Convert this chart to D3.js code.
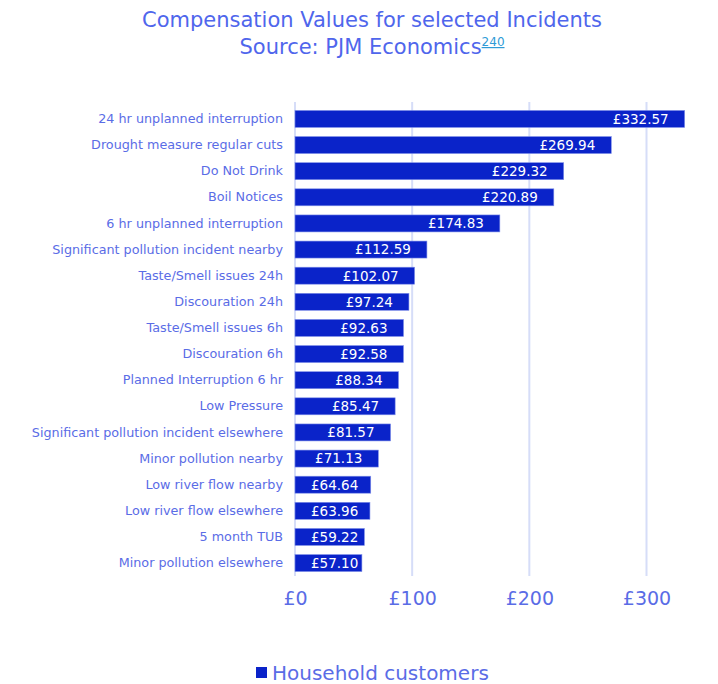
<!DOCTYPE html>
<html><head><meta charset="utf-8">
<script src="https://cdn.jsdelivr.net/npm/d3@7"></script>
<style>body{margin:0;background:#fff}svg{display:block}</style>
</head><body>
<script>
const categories = ["24 hr unplanned interruption","Drought measure regular cuts","Do Not Drink","Boil Notices","6 hr unplanned interruption","Significant pollution incident nearby","Taste/Smell issues 24h","Discouration 24h","Taste/Smell issues 6h ","Discouration 6h","Planned Interruption 6 hr","Low Pressure","Significant pollution incident elsewhere","Minor pollution nearby","Low river flow nearby","Low river flow elsewhere","5 month TUB","Minor pollution elsewhere"];
const values = [332.57,269.94,229.32,220.89,174.83,112.59,102.07,97.24,92.63,92.58,88.34,85.47,81.57,71.13,64.64,63.96,59.22,57.10];
const xTicks = [0,100,200,300];
const seriesName = "Household customers";

const W=718,H=684;
const font="'DejaVu Sans',sans-serif";
const svg=d3.select("body").append("svg").attr("width",W).attr("height",H).style("font-family",font);
const x=d3.scaleLinear().domain([0,300]).range([295,646.5]);
const y=d3.scaleBand().domain(categories).range([106,576]).paddingInner(0.35).paddingOuter(0.17);

svg.append("g").selectAll("line").data(xTicks).join("line")
 .attr("x1",d=>x(d)).attr("x2",d=>x(d)).attr("y1",102).attr("y2",576)
 .attr("stroke","#D6DDF8").attr("stroke-width",2);

svg.append("g").selectAll("rect").data(values).join("rect")
 .attr("x",x(0)).attr("y",(d,i)=>y(categories[i]))
 .attr("width",d=>x(d)-x(0)).attr("height",y.bandwidth())
 .attr("fill","#0A23C9").attr("stroke","#7F8FE8").attr("stroke-width",0.6);

const pad=16;
svg.append("g").selectAll("text").data(values).join("text")
 .attr("y",(d,i)=>y(categories[i])+y.bandwidth()/2)
 .attr("dy","0.36em").attr("text-anchor","end").attr("fill","#fff")
 .attr("font-size",13.5).text(d=>"£"+d.toFixed(2))
 .attr("x",function(d){const w=this.getComputedTextLength();return Math.max(x(d)-pad,x(0)+pad+w);});

const yAxis=d3.axisLeft(y).tickSize(0).tickPadding(12);
const ga=svg.append("g").attr("transform",`translate(${x(0)},0)`).call(yAxis);
ga.select(".domain").remove();
ga.selectAll("text").attr("fill","#5A6CE6").attr("font-size",12.75).style("font-family",font);

const xAxis=d3.axisBottom(x).tickValues(xTicks).tickSize(0).tickPadding(0).tickFormat(d=>"£"+d);
const gx=svg.append("g").attr("transform","translate(0,591)").call(xAxis);
gx.select(".domain").remove();
gx.selectAll("text").attr("fill","#5A6CE6").attr("font-size",19).attr("dy","0.71em").style("font-family",font);

const t1=svg.append("text").attr("x",372).attr("y",27).attr("text-anchor","middle")
 .attr("fill","#4F66EC").attr("font-size",21).text("Compensation Values for selected Incidents");
const t2=svg.append("text").attr("x",372).attr("y",54).attr("text-anchor","middle")
 .attr("fill","#4F66EC").attr("font-size",21);
t2.append("tspan").text("Source: PJM Economics");
t2.append("tspan").attr("dy",-8).attr("font-size",12).attr("fill","#2F9BD6")
 .attr("text-decoration","underline").text("240");

svg.append("rect").attr("x",256).attr("y",667).attr("width",11).attr("height",11).attr("fill","#0A23C9");
svg.append("text").attr("x",272).attr("y",680).attr("fill","#5A6CE6").attr("font-size",20).text(seriesName);
</script>
</body></html>
